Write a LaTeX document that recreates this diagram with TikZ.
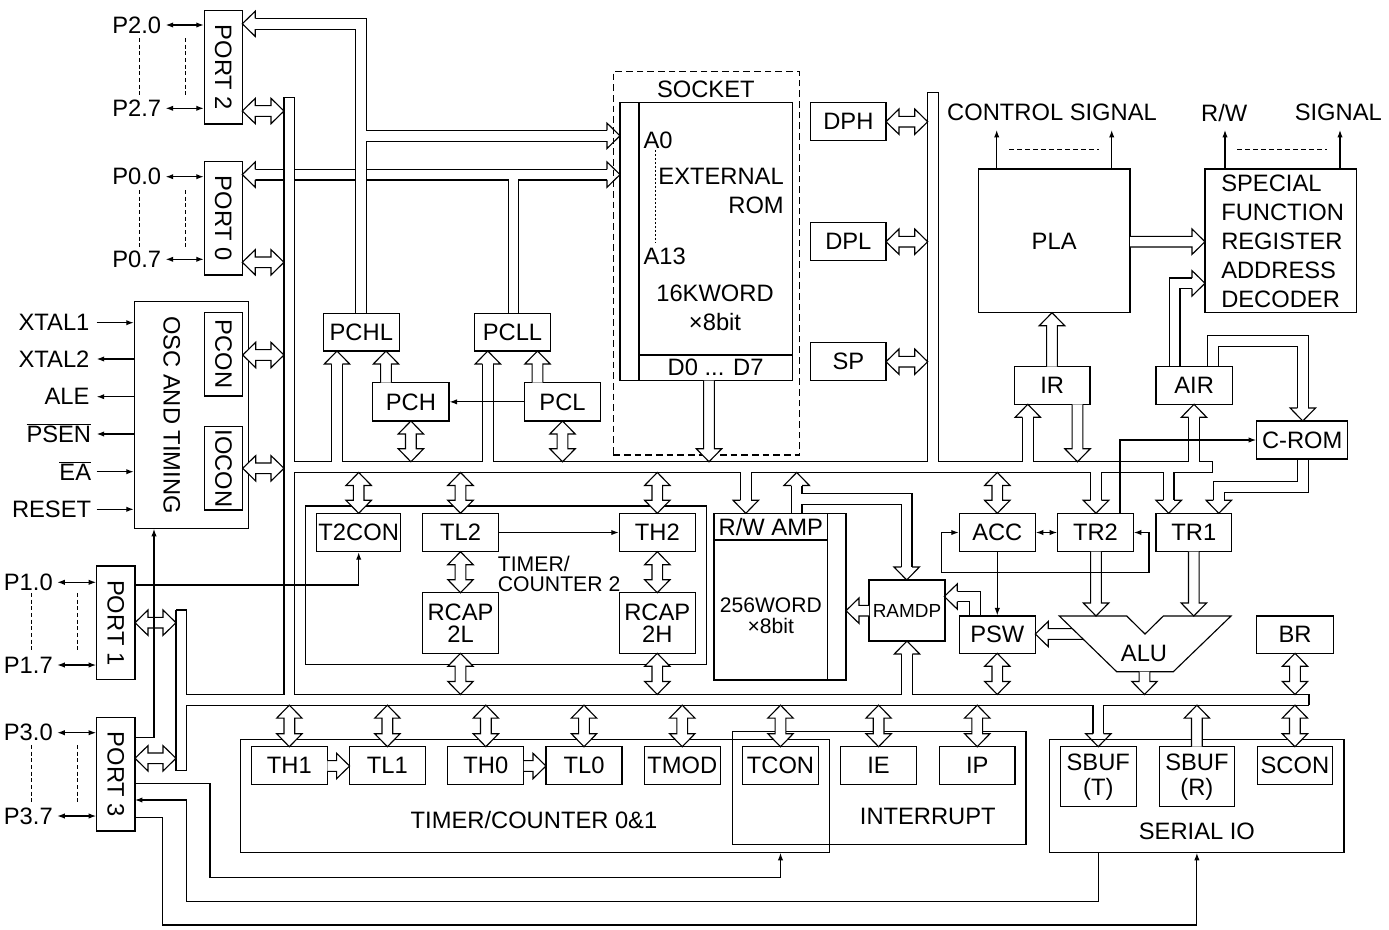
\documentclass[tikz,border=0pt]{standalone}
\usepackage{fontspec}
\setmainfont{Liberation Sans}
\usetikzlibrary{arrows.meta}

\newcommand\hh[3]{\begin{scope}[shift={(#1,#2)},rotate=#3]
  \fill[white] (-13,-12.7)--(0,0)--(-13,12.7)--cycle;
  \draw (-13,-5.35)--(-13,-12.7)--(0,0)--(-13,12.7)--(-13,5.35);
\end{scope}}
\newcommand\sarr[4]{\begin{scope}[shift={(#1,#2)},rotate=#4]
  \filldraw[fill=white] (0,-5.35)--({#3-13},-5.35)--({#3-13},-12.7)--(#3,0)--({#3-13},12.7)--({#3-13},5.35)--(0,5.35);
\end{scope}}
\newcommand\darr[4]{\begin{scope}[shift={(#1,#2)},rotate=#4]
  \filldraw[fill=white] (0,0)--(13,12.7)--(13,5.35)--({#3-13},5.35)--({#3-13},12.7)--(#3,0)--({#3-13},-12.7)--({#3-13},-5.35)--(13,-5.35)--(13,-12.7)--cycle;
\end{scope}}
\newcommand\bx[7][]{\node[draw,minimum width={(#5-#3)*0.75pt},minimum height={(#6-#4)*0.75pt},#1] (#2) at ({(#3+#5)/2},{(#4+#6)/2}) {#7};}
\newcommand\ovl[1]{\ensuremath{\overline{\hbox{#1}}}}

\def\buszero{(513.5,313.3)--(513.5,174.6) (255.3,174.6)--(607,174.6)}
\def\bussec{(361.2,313.3)--(361.2,23.8)--(255.3,23.8) (361.2,135.8)--(607,135.8)
 (1174.7,366.7)--(1174.7,283.3)--(1192,283.3)
 (1212.8,366.7)--(1212.8,341.2)--(1302.8,341.2)--(1302.8,408)
 (1302.8,459)--(1302.8,487.2)--(1218.8,487.2)--(1218.8,500.3)
 (975,616)--(975,596.5)--(957.3,596.5)
 (796.7,513.3)--(796.7,485.5)
 (796.7,499.2)--(906.7,499.2)--(906.7,567)}
\def\busmain{(289.35,97.3)--(289.35,699.8) (181.35,699.8)--(1309,699.8)
 (181.35,610)--(181.35,770.5) (289.35,467.1)--(1212.7,467.1)
 (933.05,92.3)--(933.05,467.1) (337,467.1)--(337,364) (487.8,467.1)--(487.8,364)
 (1027.8,467.1)--(1027.8,417.3) (1194,467.1)--(1194,417.3)
 (745.8,467.1)--(745.8,500.3) (1096,467.1)--(1096,500.3) (1168.7,467.1)--(1168.7,500.3)
 (907,699.8)--(907,654) (1098.3,699.8)--(1098.3,733.7)}

\begin{document}
\begin{tikzpicture}[x=0.75pt,y=-0.75pt,line width=0.85pt,line join=miter,
 font=\fontsize{17.8}{21}\selectfont,
 every node/.style={inner sep=0pt},
 ar/.style={-{Latex[length=5.6pt,width=4pt]}},
 dar/.style={{Latex[length=5.6pt,width=4pt]}-{Latex[length=5.6pt,width=4pt]}},
 busk/.style={line width=8.875pt},
 busw/.style={white,line width=7.175pt},
 pin/.style={line width=0.6pt,dash pattern=on 3pt off 2pt}]
\useasboundingbox (0,0) rectangle (1389,929);

% ---------- buses
\draw[busk] \buszero; \draw[busw] \buszero;
\draw[busk] \bussec; \draw[busw] \bussec;
\draw[busk] \busmain; \draw[busw] \busmain;
\draw[line cap=square] (284,97.3)--(294.7,97.3) (927.7,92.3)--(938.4,92.3)
 (1212.7,461.75)--(1212.7,472.45) (1309,694.45)--(1309,705.15)
 (176,610)--(186.7,610) (176,770.5)--(186.7,770.5);
\hh{242.3}{23.8}{180} \hh{620}{135.8}{0} \hh{242.3}{174.6}{180} \hh{620}{174.6}{0}
\hh{1205}{283.3}{0} \hh{1302.8}{421}{-90} \hh{1218.8}{513.3}{-90} \hh{944.3}{596.5}{180}
\hh{796.7}{472.45}{90} \hh{906.7}{580}{-90}
\hh{337}{351}{90} \hh{487.8}{351}{90} \hh{1027.8}{404.3}{90} \hh{1194}{404.3}{90}
\hh{745.8}{513.3}{-90} \hh{1096}{513.3}{-90} \hh{1168.7}{513.3}{-90}
\hh{907}{641}{90} \hh{1098.3}{746.7}{-90}
\sarr{1090}{634}{54.7}{180}

% ---------- left blocks
\bx{PORT2}{204.3}{10.7}{242.3}{124}{} \node[rotate=-90] (tP2) at (PORT2) {PORT 2};
\bx{PORT0}{204.3}{161.7}{242.3}{275}{} \node[rotate=-90] (tP0) at (PORT0) {PORT 0};
\bx{OSC}{134.3}{301.7}{248.3}{528.3}{} \node[rotate=-90] (tOSC) at (171.7,415) {OSC AND TIMING};
\bx{PCON}{204.3}{312.3}{242.7}{396}{} \node[rotate=-90] (tPCON) at (PCON) {PCON};
\bx{IOCON}{204.3}{426.7}{242.7}{510}{} \node[rotate=-90] (tIOCON) at (IOCON) {IOCON};
\bx{PORT1}{96.7}{566}{135}{679.3}{} \node[rotate=-90] (tP1) at (PORT1) {PORT 1};
\bx{PORT3}{96.7}{717.7}{135}{831}{} \node[rotate=-90] (tP3) at (PORT3) {PORT 3};

% ---------- program counter
\bx{PCHL}{323.3}{313.3}{399.3}{351}{PCHL}
\bx{PCLL}{474.3}{313.3}{550.7}{351}{PCLL}
\bx{PCH}{372.7}{382.7}{449}{421}{PCH}
\bx{PCL}{524.3}{382.7}{600.7}{421}{PCL}

% ---------- socket / ROM
\bx[dash pattern=on 5pt off 3pt]{SOCK}{613.3}{71.7}{799.3}{455}{}
\node (tSOCK) at (705.8,89.3) {SOCKET};
\bx{ROM}{620}{102.7}{792.3}{380.7}{}
\draw (639,102.7)--(639,380.7) (639,355)--(792.3,355);
\node[anchor=west] (A0) at (643,140) {A0};
\node[anchor=west] (A13) at (643,256.7) {A13};
\draw[line width=0.6pt,dash pattern=on 1.5pt off 1.5pt] (655,150)--(655,243);
\node[anchor=east,align=right,font=\fontsize{17.8}{21.2}\selectfont] (tEXT) at (784.3,190.85) {EXTERNAL\\ROM};
\node[align=center,font=\fontsize{17.8}{21.75}\selectfont] (tKW) at (715,307.8) {16KWORD\\×8bit};
\node (tD07) at (715.6,367.3) {D0 ... D7};

\bx{DPH}{810.7}{102.7}{886}{140.7}{DPH}
\bx{DPL}{810.7}{222.7}{886}{260.7}{DPL}
\bx{SP}{810.7}{342.7}{886}{380.7}{SP}

% ---------- control
\bx{PLA}{978.3}{169}{1130}{312.7}{PLA}
\bx{SFR}{1205}{169}{1356.7}{312.7}{}
\node[anchor=west,align=left,font=\fontsize{17.8}{21.75}\selectfont] (tSFR) at (1220.7,241.3) {SPECIAL\\FUNCTION\\REGISTER\\ADDRESS\\DECODER};
\node (tCS) at (1052,112.7) {CONTROL SIGNAL};
\node (tRW) at (1224.2,112.7) {R/W};
\node (tSG) at (1338.3,112.7) {SIGNAL};
\bx{IR}{1014.3}{366.7}{1090}{404.3}{IR}
\bx{AIR}{1156}{366.7}{1232.3}{404.3}{AIR}
\bx{CROM}{1256.7}{421}{1347.7}{459}{C-ROM}
\bx{ACC}{959.3}{513.3}{1035.3}{551.7}{ACC}
\bx{TR2}{1057.7}{513.3}{1133.3}{551.7}{TR2}
\bx{TR1}{1156}{513.3}{1231.7}{551.7}{TR1}
\bx{PSW}{959.3}{616}{1035.3}{653.3}{PSW}
\bx{BR}{1256.7}{616}{1333.3}{653.3}{BR}
\bx[font=\fontsize{14.2}{16}\selectfont]{RAMDP}{869}{580}{945}{641}{RAMDP}

% ---------- RAM
\bx{RAM}{714}{513.3}{846}{680}{}
\draw (827.7,513.3)--(827.7,680) (714,540)--(827.7,540);
\node (tRWA) at (770.8,526.7) {R/W AMP};
\node[align=center,font=\fontsize{15.8}{15.75}\selectfont] (tRAM) at (770.8,616.2) {256WORD\\×8bit};

% ---------- timer 2
\bx{T2B}{305.7}{506}{706.7}{664.3}{}
\bx{T2CON}{316.7}{513.3}{400.7}{551.7}{T2CON}
\bx{TL2}{422.7}{513.3}{498.3}{551.7}{TL2}
\bx{TH2}{619.3}{513.3}{695.3}{551.7}{TH2}
\bx[align=center,font=\fontsize{17.8}{16.3}\selectfont]{RC2L}{422.7}{592.7}{498.3}{653.3}{RCAP\\2L}
\bx[align=center,font=\fontsize{17.8}{16.3}\selectfont]{RC2H}{619.3}{592.7}{695.3}{653.3}{RCAP\\2H}
\node[anchor=west,align=left,font=\fontsize{15.9}{15}\selectfont] (tT2) at (497.3,574) {TIMER/\\COUNTER 2};

% ---------- ALU
\draw[fill=white] (1059.3,616)--(1126.7,616)--(1145,634)--(1163.3,616)--(1231,616)--(1173.3,671.7)--(1116.7,671.7)--cycle;
\node (ALU) at (1144,653.3) {ALU};

% ---------- bottom row
\bx{TC01}{240.3}{739.3}{829.6}{852.3}{}
\bx{INT}{732.2}{731.7}{1026}{844.3}{}
\node (tTC) at (534,820) {TIMER/COUNTER 0\&1};
\node (tINT) at (927.8,816.7) {INTERRUPT};
\bx{TH1}{251.4}{746.7}{327.3}{784.3}{TH1}
\bx{TL1}{349.6}{746.7}{425.1}{784.3}{TL1}
\bx{TH0}{447.9}{746.7}{523.8}{784.3}{TH0}
\bx{TL0}{546}{746.7}{622}{784.3}{TL0}
\bx{TMOD}{644.3}{746.7}{720.2}{784.3}{TMOD}
\bx{TCON}{742.5}{746.7}{818.5}{784.3}{TCON}
\bx{IE}{840.6}{746.7}{916.6}{784.3}{IE}
\bx{IP}{939.5}{746.7}{1015}{784.3}{IP}
\bx{SIO}{1049.3}{739.3}{1344}{852.3}{}
\node (tSIO) at (1196.9,831.7) {SERIAL IO};
\bx[align=center,font=\fontsize{17.8}{18.75}\selectfont]{SBUFT}{1060.3}{746.7}{1136.3}{806.7}{SBUF\\(T)}
\bx[align=center,font=\fontsize{17.8}{18.75}\selectfont]{SBUFR}{1159.1}{746.7}{1234.7}{806.7}{SBUF\\(R)}
\bx{SCON}{1257.1}{746.7}{1332.7}{784.3}{SCON}

% ---------- standalone hollow arrows
\sarr{1130}{241.7}{75}{0}
\sarr{1052}{366.7}{54}{90}
\sarr{1077.5}{404.3}{57.45}{-90}
\sarr{709}{380.7}{81.05}{-90}
\sarr{869}{610.7}{23}{180}
\sarr{386}{382.7}{31.7}{90}
\sarr{537.5}{382.7}{31.7}{90}
\sarr{1096}{551.7}{64.3}{-90}
\sarr{1193.8}{551.7}{64.3}{-90}
\sarr{1144.5}{671.7}{22.75}{-90}
\sarr{327.3}{766}{22.3}{0}
\sarr{523.8}{766}{22.2}{0}
\sarr{1196.9}{746.7}{41.55}{90}

\darr{242.3}{111}{41.7}{0}
\darr{242.3}{262.3}{41.7}{0}
\darr{242.7}{355}{41.3}{0}
\darr{242.7}{468.3}{41.3}{0}
\darr{135}{622.7}{41}{0}
\darr{135}{758.3}{41}{0}
\darr{886}{121.7}{41.7}{0}
\darr{886}{241.7}{41.7}{0}
\darr{886}{361.7}{41.7}{0}
\darr{410.9}{421}{40.75}{-90}
\darr{562.5}{421}{40.75}{-90}
\darr{358.7}{472.45}{40.85}{-90}
\darr{460.5}{472.45}{40.85}{-90}
\darr{657.3}{472.45}{40.85}{-90}
\darr{997.3}{472.45}{40.85}{-90}
\darr{460.5}{551.7}{41}{-90}
\darr{657.3}{551.7}{41}{-90}
\darr{460.5}{653.3}{41.15}{-90}
\darr{657.3}{653.3}{41.15}{-90}
\darr{997.3}{653.3}{41.15}{-90}
\darr{1295}{653.3}{41.15}{-90}
\foreach \x in {289.35,387.4,485.85,584,682.25,780.5,878.6,977.25,1294.9} {\darr{\x}{705.15}{41.55}{-90}}

% ---------- pins
\foreach \n/\y/\t/\b in {p20/25/P2.0/PORT2,p27/108.3/P2.7/PORT2,p00/176.7/P0.0/PORT0,p07/259.3/P0.7/PORT0}
 {\node[anchor=east] (\n) at (161.7,\y) {\t}; \draw[dar] ([xshift=3pt]\n.east) -- (\n -| \b.west);}
\foreach \n/\y/\t/\b in {p10/582.3/P1.0/PORT1,p17/665/P1.7/PORT1,p30/732.7/P3.0/PORT3,p37/816/P3.7/PORT3}
 {\node[anchor=east] (\n) at (53.3,\y) {\t}; \draw[dar] ([xshift=3pt]\n.east) -- (\n -| \b.west);}
\draw[pin] (139.3,38)--(139.3,96) (185.7,38)--(185.7,96) (139.3,190)--(139.3,247) (185.7,190)--(185.7,247)
 (31.7,593)--(31.7,651.7) (77.7,593)--(77.7,651.7) (31.7,745)--(31.7,803) (77.7,745)--(77.7,803);

\node[anchor=east] (xt1) at (90,322.7) {XTAL1};
\node[anchor=east] (xt2) at (90,359) {XTAL2};
\node[anchor=east] (ale) at (90,396.7) {ALE};
\node[anchor=east,text height=12.75pt,text depth=0pt] (psen) at (91.7,434) {\ovl{PSEN}};
\node[anchor=east,text height=12.75pt,text depth=0pt] (ea) at (91.7,471.7) {\ovl{EA}};
\node[anchor=east] (rst) at (91.7,509.3) {RESET};
\draw[ar] (96.7,322.7) -- (xt1 -| OSC.west);
\draw[ar] (xt2 -| OSC.west) -- (96.7,359);
\draw[ar] (ale -| OSC.west) -- (96.7,396.7);
\draw[ar] (psen -| OSC.west) -- (96.7,434);
\draw[ar] (96.7,471.7) -- (ea -| OSC.west);
\draw[ar] (96.7,509.3) -- (rst -| OSC.west);

% ---------- thin connectors
\draw[ar] (PCL.west) -- (PCH.east);
\draw[ar] (TL2.east) -- (TH2.west);
\draw[ar] (135,585) -| (T2CON.south);
\draw[ar] (135,737.7) -| (OSC.south -| 154,528.3);
\draw[ar] (135,783.3) -| (210,877.7) -| (TCON |- TC01.south);
\draw[ar] (SBUFT |- SIO.south) |- (186.7,901.7) |- (135,800);
\draw[ar] (135,817.7) -| (162.3,925) -| (SBUFR |- SIO.south);
\draw[ar] (996.7,169) -- (996.7,130);
\draw[ar] (1111.7,169) -- (1111.7,130);
\draw[ar] (1225,169) -- (1225,130);
\draw[ar] (1340,169) -- (1340,130);
\draw[line width=0.6pt,dash pattern=on 3.5pt off 2.5pt] (1009,149.3)--(1099.3,149.3) (1237.3,149.3)--(1327.3,149.3);
\draw[ar] (1120,513.3) |- (CROM.west);
\draw[dar] (ACC.east) -- (TR2.west);
\draw[dar] (TR2.east) -- (1149,532.5) -- (1149,572.7) -- (941.7,572.7) -- (941.7,532.5) -- (ACC.west);
\draw[ar] (ACC.south) -- (PSW.north);
\end{tikzpicture}
\end{document}
